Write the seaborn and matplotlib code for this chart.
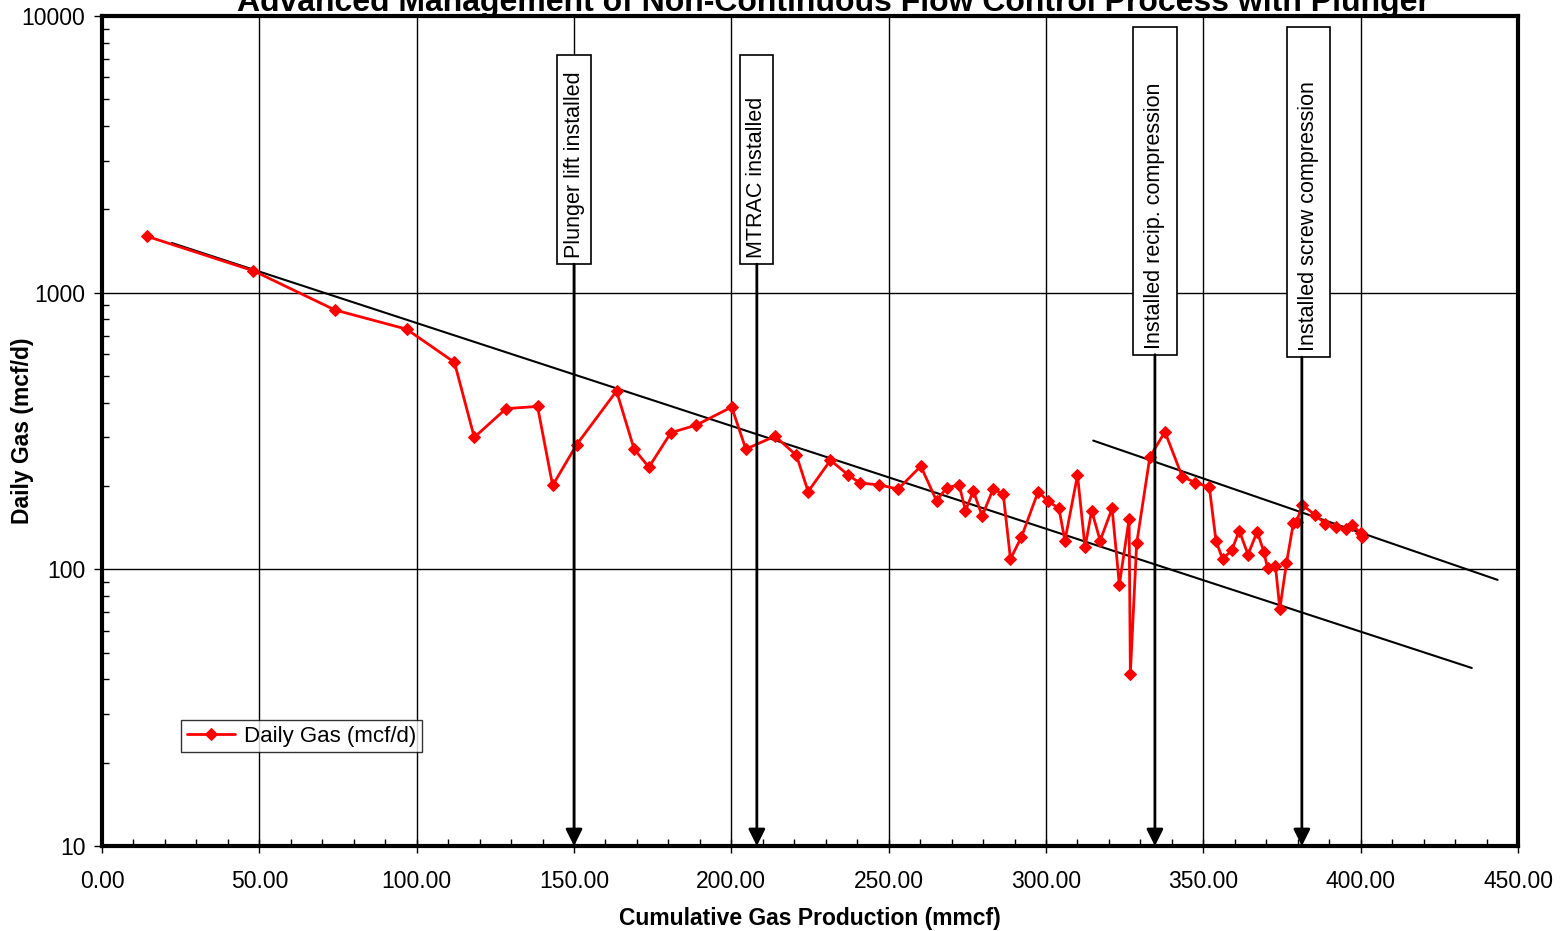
import numpy as np
import pandas as pd
import matplotlib.pyplot as plt
import matplotlib.transforms as mtransforms
from matplotlib.patches import Rectangle
from matplotlib.ticker import MultipleLocator, LogLocator, FuncFormatter, NullFormatter
import seaborn as sns

# data
cum_gas = [14.2, 48.1, 74.0, 96.8, 112.0, 118.3, 128.4, 138.4, 143.2, 150.8,
           163.5, 169.1, 173.8, 180.8, 188.8, 200.1, 204.6, 213.9, 220.7, 224.4,
           231.5, 237.2, 240.9, 247.0, 253.0, 260.2, 265.2, 268.4, 272.4, 274.4,
           276.9, 279.7, 283.2, 286.4, 288.7, 292.2, 297.5, 300.5, 304.1, 306.0,
           310.0, 312.4, 314.5, 317.2, 321.0, 323.3, 326.4, 326.8, 328.8, 333.0,
           337.8, 343.3, 347.5, 351.9, 354.0, 356.1, 359.0, 361.4, 364.2, 367.1,
           369.2, 370.4, 372.9, 374.3, 376.4, 378.6, 379.6, 381.4, 385.6, 388.8,
           392.1, 395.2, 397.3, 400.0, 400.4]
daily_gas = [1600, 1200, 866, 738, 560, 300, 381, 388, 201, 282,
             441, 272, 234, 312, 332, 386, 272, 303, 258, 191,
             248, 219, 205, 202, 195, 236, 177, 197, 202, 163,
             192, 156, 195, 187, 109, 131, 191, 177, 166, 127,
             219, 120, 163, 127, 166, 88, 152, 42, 124, 255,
             314, 216, 206, 198, 127, 109, 117, 138, 113, 137,
             116, 101, 103, 72, 105, 147, 148, 171, 157, 146,
             142, 140, 145, 135, 131]

# exponential trend lines (straight on the log axis), end points
trend1_x = [22.2, 435.3]
trend1_y = [1512, 44.0]
trend2_x = [315.0, 443.5]
trend2_y = [292, 91.6]

events = ["Plunger lift installed", "MTRAC installed",
          "Installed recip. compression", "Installed screw compression"]
event_x = [150.0, 208.1, 334.6, 381.3]

title = "Advanced Management of Non-Continuous Flow Control Process with Plunger"

df = pd.DataFrame({"cum": cum_gas, "gas": daily_gas})

sns.set_style("white")
plt.rcParams["font.family"] = ["Liberation Sans", "DejaVu Sans"]
plt.rcParams["text.color"] = "black"
plt.rcParams["axes.labelcolor"] = "black"
plt.rcParams["xtick.color"] = "black"
plt.rcParams["ytick.color"] = "black"

fig = plt.figure(figsize=(15.6, 9.31), dpi=100)
ax = fig.add_axes([0.0654, 0.0913, 0.9077, 0.8915])

ax.plot(trend1_x, trend1_y, color="black", lw=1.5, zorder=3)
ax.plot(trend2_x, trend2_y, color="black", lw=1.5, zorder=3)

sns.lineplot(data=df, x="cum", y="gas", ax=ax, color="red", marker="D",
             markersize=6, markeredgecolor="red", lw=2, sort=False,
             estimator=None, label="Daily Gas (mcf/d)", zorder=4)

ax.set_yscale("log")
ax.set_xlim(0, 450)
ax.set_ylim(10, 10000)

ax.grid(True, which="major", color="black", lw=1)
ax.set_axisbelow(True)
for sp in ax.spines.values():
    sp.set_linewidth(3)
    sp.set_color("black")

ax.xaxis.set_major_locator(MultipleLocator(50))
ax.xaxis.set_minor_locator(MultipleLocator(10))
ax.xaxis.set_major_formatter(FuncFormatter(lambda v, p: f"{v:.2f}"))
ax.yaxis.set_major_locator(LogLocator(base=10))
ax.yaxis.set_minor_locator(LogLocator(base=10, subs=np.arange(2, 10)))
ax.yaxis.set_major_formatter(FuncFormatter(lambda v, p: f"{v:.0f}"))
ax.yaxis.set_minor_formatter(NullFormatter())

ax.tick_params(axis="x", which="major", direction="inout", length=10, width=1,
               labelsize=16.5, pad=12, bottom=True)
ax.tick_params(axis="x", which="minor", direction="in", length=5, width=1, bottom=True)
ax.tick_params(axis="y", which="major", direction="out", length=6, width=1,
               labelsize=16.5, pad=6, left=True)
ax.tick_params(axis="y", which="minor", direction="in", length=5, width=1, left=True)

ax.set_xlabel("Cumulative Gas Production (mmcf)", fontsize=16.5, fontweight="bold")
ax.set_ylabel("Daily Gas (mcf/d)", fontsize=16.5, fontweight="bold")
ax.xaxis.set_label_coords(0.5, -0.0735)
ax.yaxis.set_label_coords(-0.048, 0.5)

leg = ax.legend(loc="lower left", bbox_to_anchor=(0.0558, 0.113), fontsize=16,
                frameon=True, fancybox=False, edgecolor="black", borderaxespad=0,
                handlelength=2.2, borderpad=0.25, handletextpad=0.4)
leg.get_frame().set_linewidth(1)

# event boxes with arrows down to the x axis
trans = mtransforms.blended_transform_factory(ax.transData, ax.transAxes)
box_cx = [150.0, 207.9, 334.6, 383.4]
box_w = [10.8, 10.5, 14.0, 13.7]
box_top = [0.953, 0.953, 0.987, 0.987]
box_bot = [0.701, 0.701, 0.592, 0.589]
for lab, ex, cx, w, top, bot in zip(events, event_x, box_cx, box_w, box_top, box_bot):
    ax.add_patch(Rectangle((cx - w / 2, bot), w, top - bot, transform=trans,
                           facecolor="white", edgecolor="black", lw=1.2, zorder=5))
    ax.text(cx, bot + 0.007, lab, rotation=90, ha="center", va="bottom",
            transform=trans, fontsize=15.5, zorder=6)
    ax.annotate("", xy=(ex, 0), xycoords=trans, xytext=(ex, bot), textcoords=trans,
                arrowprops=dict(arrowstyle="-|>,head_length=0.5,head_width=0.25",
                                color="black", lw=2, mutation_scale=20,
                                shrinkA=0, shrinkB=0), zorder=5)

fig.text(0.534, 1 - 11 / 931, title, ha="center", va="baseline",
         fontsize=23, fontweight="bold")

fig.savefig("out.png", dpi=100)
